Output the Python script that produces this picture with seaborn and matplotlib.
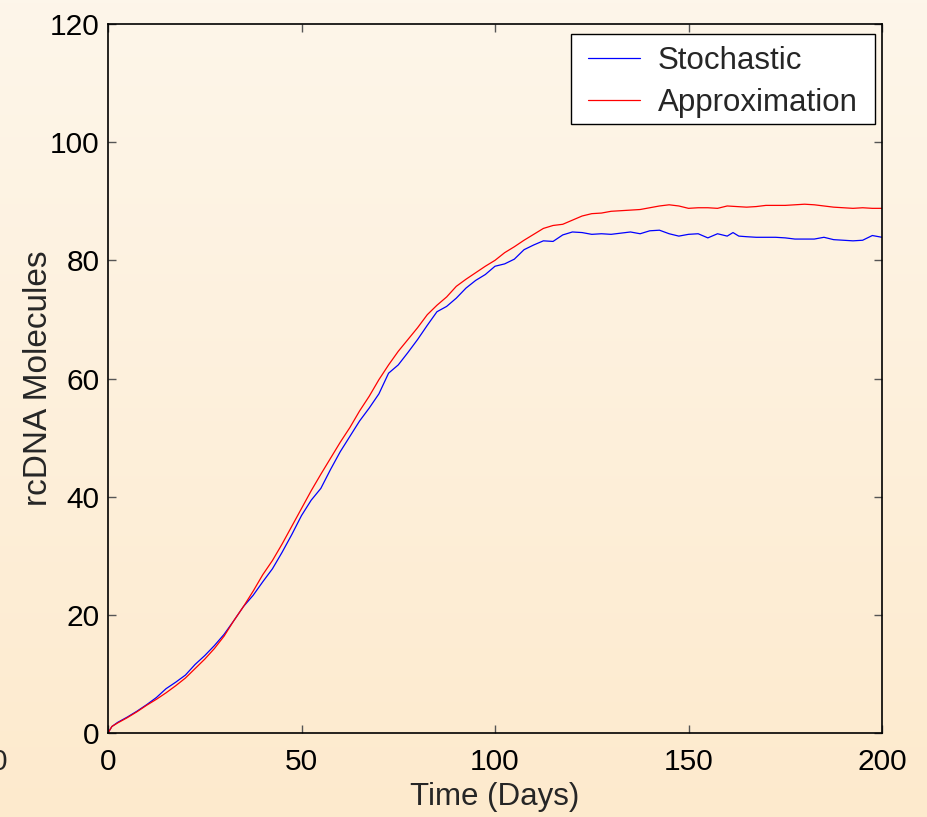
import numpy as np
import pandas as pd
import matplotlib
matplotlib.use("Agg")
import matplotlib.pyplot as plt
import seaborn as sns
from matplotlib.colors import LinearSegmentedColormap
from matplotlib.lines import Line2D
from matplotlib.patches import Rectangle

# ---- data ----
days_stoch = [0, 1, 2.5, 5, 7.5, 10, 12.5, 15, 17.5, 20, 22.5, 25, 27.5, 30, 32.5, 35,
              37.5, 40, 42.5, 45, 47.5, 50, 52.5, 55, 57.5, 60, 62.5, 65, 67.5, 70,
              72.5, 75, 77.5, 80, 82.5, 85, 87.5, 90, 92.5, 95, 97.5, 100, 102.5, 105,
              107.5, 110, 112.5, 115, 117.5, 120, 122.5, 125, 127.5, 130, 132.5, 135,
              137.5, 140, 142.5, 145, 147.5, 150, 152.5, 155, 157.5, 160, 161.5, 163,
              165, 167.5, 170, 172.5, 175, 177.5, 180, 182.5, 185, 187.5, 190, 192.5,
              195, 197.5, 200]
stochastic = [0, 1.1, 1.8, 2.7, 3.7, 4.8, 6.0, 7.5, 8.6, 9.8, 11.6, 13.1, 14.8, 16.7, 19.0, 21.4,
              23.3, 25.6, 27.8, 30.6, 33.6, 36.8, 39.4, 41.4, 44.6, 47.6, 50.2, 52.8, 55.0, 57.4,
              60.9, 62.3, 64.4, 66.6, 69.0, 71.3, 72.2, 73.6, 75.3, 76.6, 77.6, 79.0, 79.4, 80.2,
              81.8, 82.6, 83.3, 83.2, 84.3, 84.8, 84.7, 84.4, 84.5, 84.4, 84.6, 84.8,
              84.5, 85.0, 85.1, 84.5, 84.1, 84.4, 84.5, 83.8, 84.5, 84.1, 84.7, 84.1,
              84.0, 83.9, 83.9, 83.9, 83.8, 83.6, 83.6, 83.6, 83.9, 83.5, 83.4, 83.3,
              83.4, 84.2, 83.9]

days_approx = [0, 1, 2.5, 5, 7.5, 10, 12.5, 15, 17.5, 20, 22.5, 25, 27.5, 30, 32.5, 35,
               37.5, 40, 42.5, 45, 47.5, 50, 52.5, 55, 57.5, 60, 62.5, 65, 67.5, 70,
               72.5, 75, 77.5, 80, 82.5, 85, 87.5, 90, 92.5, 95, 97.5, 100, 102.5, 105,
               107.5, 110, 112.5, 115, 117.5, 120, 122.5, 125, 127.5, 130, 132.5, 135,
               137.5, 140, 142.5, 145, 147.5, 150, 152.5, 155, 157.5, 160, 162.5, 165,
               167.5, 170, 172.5, 175, 177.5, 180, 182.5, 185, 187.5, 190, 192.5, 195,
               197.5, 200]
approximation = [0, 1.1, 1.7, 2.6, 3.6, 4.7, 5.7, 6.8, 8.0, 9.3, 10.9, 12.5, 14.3, 16.4, 19.0, 21.4,
                 24.0, 26.8, 29.2, 32.0, 35.0, 38.0, 41.0, 43.8, 46.5, 49.2, 51.7, 54.5, 57.0, 59.8,
                 62.3, 64.6, 66.6, 68.6, 70.8, 72.4, 73.8, 75.6, 76.8, 77.9, 79.0, 80.0, 81.3, 82.3,
                 83.4, 84.4, 85.4, 85.9, 86.1, 86.8, 87.5, 87.9, 88.0, 88.3, 88.4, 88.5,
                 88.6, 88.9, 89.2, 89.4, 89.2, 88.8, 88.9, 88.9, 88.8, 89.2, 89.1, 89.0,
                 89.1, 89.3, 89.3, 89.3, 89.4, 89.5, 89.4, 89.2, 89.0, 88.9, 88.8, 88.9,
                 88.8, 88.8]

series_names = ["Stochastic", "Approximation"]
x_ticks = [0, 50, 100, 150, 200]
y_ticks = [0, 20, 40, 60, 80, 100, 120]

df = pd.concat([
    pd.DataFrame({"Day": days_stoch, "Value": stochastic, "Series": series_names[0]}),
    pd.DataFrame({"Day": days_approx, "Value": approximation, "Series": series_names[1]}),
])

sns.set_style("ticks")
plt.rcParams["font.family"] = ["Liberation Sans", "DejaVu Sans"]

W, H = 927, 817
fig = plt.figure(figsize=(W / 100, H / 100), dpi=100)

# gradient background
bg = fig.add_axes([0, 0, 1, 1], zorder=-10)
cmap = LinearSegmentedColormap.from_list("bg", ["#FDF6EA", "#FDEACD"])
grad = np.linspace(0, 1, 256).reshape(-1, 1)
bg.imshow(grad, aspect="auto", cmap=cmap, extent=[0, 1, 0, 1], origin="upper")
bg.axis("off")

ax = fig.add_axes([108 / W, 1 - 733 / H, (882 - 108) / W, (733 - 24) / H])
ax.patch.set_alpha(0)

sns.lineplot(data=df, x="Day", y="Value", hue="Series",
             palette={"Stochastic": "#0000FF", "Approximation": "#FF0000"},
             linewidth=0.9, ax=ax, legend=False, sort=False)

ax.set_xlim(0, 200)
ax.set_ylim(0, 120)
ax.set_xticks(x_ticks)
ax.set_yticks(y_ticks)
ax.tick_params(direction="in", length=6, width=1, colors="#555555",
               labelcolor="black", labelsize=21.5, top=True, right=True)
ax.tick_params(axis="x", pad=11)
ax.tick_params(axis="y", pad=6)
for s in ax.spines.values():
    s.set_color("black")
    s.set_linewidth(1.2)

ax.set_xlabel("Time (Days)", fontsize=22.5, labelpad=4)
ax.set_ylabel("rcDNA Molecules", fontsize=24, labelpad=-3)

# legend frame
fig.patches.append(Rectangle((571 / W, 1 - 124 / H), (875 - 571) / W, (124 - 34) / H,
                             transform=fig.transFigure, facecolor="white",
                             edgecolor="black", linewidth=1.0, zorder=5))
handles = [Line2D([], [], color="#0000FF", lw=0.9), Line2D([], [], color="#FF0000", lw=0.9)]
leg = fig.legend(handles, series_names, loc="center left", fontsize=22.5,
                 frameon=False, handlelength=1.66, handletextpad=0.58,
                 borderpad=0, borderaxespad=0, labelspacing=0.4,
                 bbox_to_anchor=(588 / W, 1 - 82 / H))
leg.set_zorder(6)

# stray partial label at left edge
fig.text(7 / W, 1 - 762 / H, "0", ha="right", va="center", fontsize=21.5)

fig.savefig("out.png", dpi=100)
